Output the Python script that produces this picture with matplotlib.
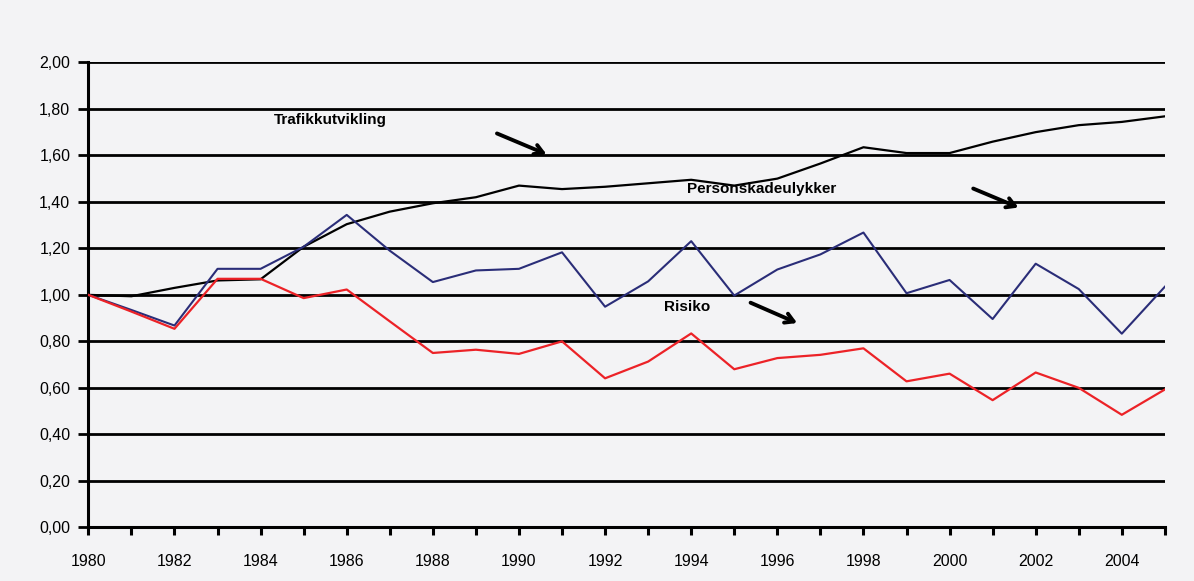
import matplotlib.pyplot as plt
from matplotlib.ticker import FuncFormatter, MultipleLocator

years = list(range(1980, 2006))

trafikk = [1.00, 0.994, 1.03, 1.062, 1.067, 1.207, 1.304, 1.358, 1.394, 1.42, 1.47, 1.455,
           1.465, 1.48, 1.495, 1.47, 1.50, 1.565, 1.635, 1.61, 1.61, 1.659, 1.70, 1.73, 1.744, 1.768]
personskade = [1.00, 0.935, 0.868, 1.112, 1.112, 1.207, 1.344, 1.19, 1.055, 1.105, 1.112, 1.183,
               0.949, 1.058, 1.231, 0.997, 1.109, 1.174, 1.268, 1.007, 1.064, 0.896, 1.134, 1.025, 0.833, 1.035]
risiko = [1.00, 0.928, 0.854, 1.069, 1.069, 0.986, 1.023, 0.886, 0.75, 0.764, 0.746, 0.80,
          0.641, 0.713, 0.834, 0.68, 0.728, 0.742, 0.77, 0.628, 0.661, 0.547, 0.666, 0.60, 0.484, 0.593]

bg = "#f3f3f5"
plt.rcParams["font.family"] = ["Liberation Sans", "DejaVu Sans"]

fig = plt.figure(figsize=(11.94, 5.81), dpi=100, facecolor=bg)
ax = fig.add_axes([0.0740, 0.0924, 0.9016, 0.8002], facecolor=bg)

ax.plot(years, trafikk, color="black", lw=1.6, zorder=3)
ax.plot(years, personskade, color="#2a2d78", lw=1.5, zorder=3)
ax.plot(years, risiko, color="#ec2227", lw=1.6, zorder=4)

ax.set_xlim(1980, 2005)
ax.set_ylim(0, 2.0)
ax.yaxis.set_major_locator(MultipleLocator(0.2))
ax.xaxis.set_major_locator(MultipleLocator(1))
ax.yaxis.set_major_formatter(FuncFormatter(lambda v, p: f"{v:.2f}".replace(".", ",")))
ax.xaxis.set_major_formatter(FuncFormatter(lambda v, p: f"{int(round(v))}" if int(round(v)) % 2 == 0 and v < 2005 else ""))

ax.grid(axis="y", color="black", lw=2.0, zorder=1)
ax.set_axisbelow(True)
for s in ["top", "right"]:
    ax.spines[s].set_visible(False)
for s in ["left", "bottom"]:
    ax.spines[s].set_linewidth(2.2)
ax.tick_params(axis="y", length=7, width=2.0, labelsize=11.5, pad=6)
ax.tick_params(axis="x", length=6, width=2.2, labelsize=11.5, pad=13)

arrow = dict(arrowstyle="->,head_length=0.6,head_width=0.35", color="black", lw=2.8)
ax.text(1984.31, 1.753, "Trafikkutvikling", fontsize=11, fontweight="bold", va="center")
ax.annotate("", xy=(1990.70, 1.600), xytext=(1989.43, 1.699), arrowprops=arrow)
ax.text(1993.90, 1.456, "Personskadeulykker", fontsize=11, fontweight="bold", va="center", zorder=5)
ax.annotate("", xy=(2001.66, 1.371), xytext=(2000.49, 1.462), arrowprops=arrow)
ax.text(1993.37, 0.948, "Risiko", fontsize=11, fontweight="bold", va="center")
ax.annotate("", xy=(1996.52, 0.874), xytext=(1995.32, 0.971), arrowprops=arrow)

fig.savefig("out.png", dpi=100, facecolor=bg)
